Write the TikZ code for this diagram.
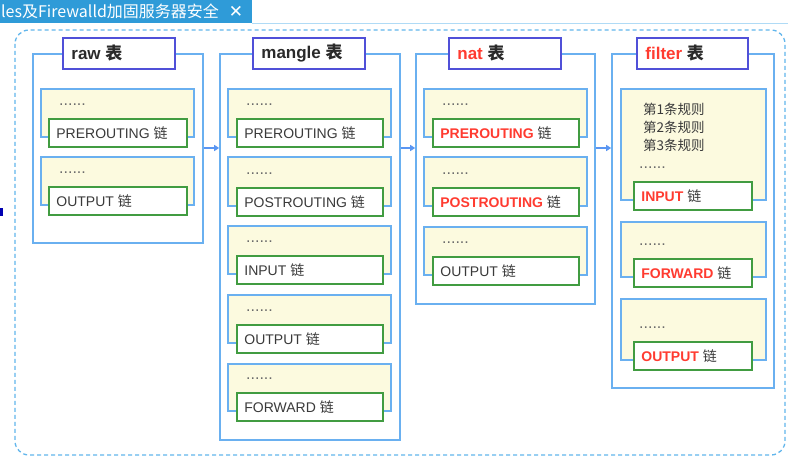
\documentclass[tikz,border=0pt]{standalone}
\usepackage{fontspec}
\setmainfont{Liberation Sans}
\newfontfamily\cjk{Noto Sans CJK SC}
\newfontfamily\symfont{DejaVu Sans}
\usetikzlibrary{fit,arrows.meta}
\definecolor{tabblue}{HTML}{2F9BD8}
\definecolor{boxblue}{HTML}{6AB0F0}
\definecolor{dashblue}{HTML}{62B6EC}
\definecolor{titleblue}{HTML}{5050D8}
\definecolor{chaingreen}{HTML}{419C41}
\definecolor{paleyellow}{HTML}{FCFADF}
\definecolor{redtxt}{HTML}{FF3B30}
\definecolor{graytxt}{HTML}{3A3A3A}
\definecolor{darktxt}{HTML}{2A2A2A}
\newcommand\chaingrp[8]{%
  \node[ybox, fit={(#2,#3)(#4,#5)}] (#1y) {};
  \node[gbox, fit={(#6,#5-18)(#7,#5+10)}] (#1g) {};
  \node[dotstxt, anchor=west] (#1d) at (#2+18,#5-32) {......};
  \node[chaintxt, anchor=west] (#1t) at ([xshift=8pt]#1g.west) {#8};
}
\newcommand\tbltitle[4]{%
  \node[titlebox, fit={(#2,38)(#3,69)}] (#1) {};
  \node[titletxt, anchor=west] (#1txt) at ([xshift=9pt]#1.west) {#4};
}
\newcommand\redc[1]{\textcolor{redtxt}{\bfseries #1}}
\begin{document}
\begin{tikzpicture}[x=1pt,y=-1pt,
  tblbox/.style={draw=boxblue, line width=1.6pt, fill=white, inner sep=0pt},
  titlebox/.style={draw=titleblue, line width=1.6pt, fill=white, inner sep=0pt},
  titletxt/.style={font=\fontsize{17}{20}\selectfont\bfseries, text=darktxt, inner sep=0pt},
  ybox/.style={draw=boxblue, line width=1.5pt, fill=paleyellow, inner sep=0pt},
  gbox/.style={draw=chaingreen, line width=1.6pt, fill=white, inner sep=0pt},
  chaintxt/.style={font=\fontsize{14}{16}\selectfont, text=graytxt, inner sep=0pt},
  dotstxt/.style={font=\fontsize{16}{16}\selectfont, text=graytxt!75, inner sep=0pt},
  ruletxt/.style={font=\cjk\fontsize{13.5}{16}\selectfont, text=graytxt, inner sep=0pt},
  flow/.style={draw=boxblue!85!blue, line width=1.3pt, -{Triangle[length=5pt,width=6pt]}}
]
\useasboundingbox (0,0) rectangle (788,457);
\fill[white] (0,0) rectangle (788,457);
% tab bar
\fill[tabblue] (0,0) rectangle (252,23);
\draw[dashblue!50, line width=0.8pt] (252,23.5) -- (788,23.5);
\node[font=\cjk\fontsize{16}{18}\selectfont, text=white, anchor=west, inner sep=0pt] (tabtitle) at (1,11.5) {les及Firewalld加固服务器安全};
\node[font=\symfont\fontsize{17}{18}\selectfont, text=white, inner sep=0pt] (tabclose) at (236,11.5) {✕};
\fill[blue!70!black] (0,208) rectangle (3,216);
% dashed frame
\draw[dashblue, line width=1.3pt, dash pattern=on 4pt off 3pt, rounded corners=14pt] (15,30) rectangle (785,455);
% table boxes
\node[tblbox, fit={(33,54)(203,243)}] (raw) {};
\node[tblbox, fit={(220,54)(400,440)}] (mangle) {};
\node[tblbox, fit={(416,54)(595,304)}] (nat) {};
\node[tblbox, fit={(612,54)(774,388)}] (filter) {};
\tbltitle{rawT}{63}{175}{raw {\cjk 表}}
\tbltitle{mangleT}{253}{365}{mangle {\cjk 表}}
\tbltitle{natT}{449}{561}{\textcolor{redtxt}{nat} {\cjk 表}}
\tbltitle{filterT}{637}{748}{\textcolor{redtxt}{filter} {\cjk 表}}
% raw
\chaingrp{r1}{41}{89}{194}{137}{49}{187}{PREROUTING {\cjk 链}}
\chaingrp{r2}{41}{157}{194}{205}{49}{187}{OUTPUT {\cjk 链}}
% mangle
\chaingrp{m1}{228}{89}{391}{137}{237}{383}{PREROUTING {\cjk 链}}
\chaingrp{m2}{228}{157}{391}{206}{237}{383}{POSTROUTING {\cjk 链}}
\chaingrp{m3}{228}{226}{391}{274}{237}{383}{INPUT {\cjk 链}}
\chaingrp{m4}{228}{295}{391}{343}{237}{383}{OUTPUT {\cjk 链}}
\chaingrp{m5}{228}{364}{391}{411}{237}{383}{FORWARD {\cjk 链}}
% nat
\chaingrp{n1}{424}{89}{587}{137}{433}{579}{\redc{PREROUTING} {\cjk 链}}
\chaingrp{n2}{424}{157}{587}{206}{433}{579}{\redc{POSTROUTING} {\cjk 链}}
\chaingrp{n3}{424}{227}{587}{275}{433}{579}{OUTPUT {\cjk 链}}
% filter
\chaingrp{f1}{621}{89}{766}{200}{634}{752}{\redc{INPUT} {\cjk 链}}
\chaingrp{f2}{621}{222}{766}{277}{634}{752}{\redc{FORWARD} {\cjk 链}}
\chaingrp{f3}{621}{299}{766}{360}{634}{752}{\redc{OUTPUT} {\cjk 链}}
\node[ruletxt, anchor=west] (rule1) at (643,109) {第1条规则};
\node[ruletxt, anchor=west] (rule2) at (643,127) {第2条规则};
\node[ruletxt, anchor=west] (rule3) at (643,145) {第3条规则};
% arrows
\coordinate (lvl) at (0,148);
\draw[flow] (raw.east |- lvl) -- (mangle.west |- lvl);
\draw[flow] (mangle.east |- lvl) -- (nat.west |- lvl);
\draw[flow] (nat.east |- lvl) -- (filter.west |- lvl);
\end{tikzpicture}
\end{document}
